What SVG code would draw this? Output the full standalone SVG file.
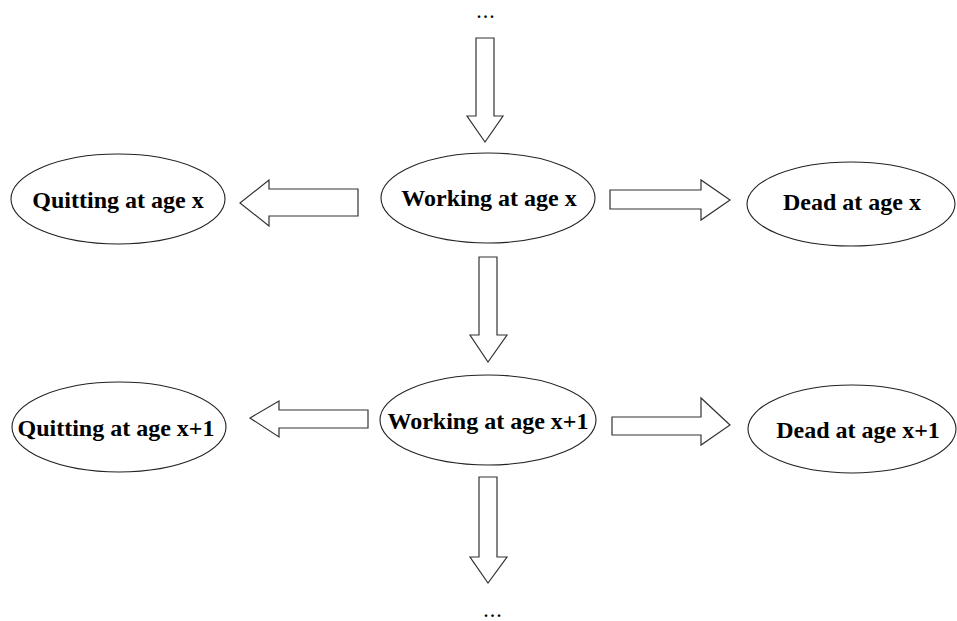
<svg xmlns="http://www.w3.org/2000/svg" width="957" height="621" viewBox="0 0 957 621">
<style>
.n{fill:#fff;stroke:#222;stroke-width:1.1}
.a{fill:#fff;stroke:#333;stroke-width:1.2;stroke-linejoin:miter}
.t{font-family:"Liberation Serif","Times New Roman",serif;font-weight:bold;font-size:24px;fill:#000;text-anchor:middle}
.d{font-family:"Liberation Serif","Times New Roman",serif;font-weight:bold;font-size:16px;letter-spacing:2.5px;fill:#000}
</style>
<rect width="957" height="621" fill="#fff"/>
<g id="connectors">
<path class="a" d="M476,38 H494 V116 H503 L485,142 L467,116 H476 Z"/>
<path class="a" d="M358,189 V216 H269 V226 L240,203 L269,180 V189 Z"/>
<path class="a" d="M610,190 H701 V180 L730,200 L701,220 V209 H610 Z"/>
<path class="a" d="M479,257 H497 V335 H507 L488,362 L470,335 H479 Z"/>
<path class="a" d="M368,410 V428 H279 V437 L250,418 L279,401 V410 Z"/>
<path class="a" d="M612,417 H701 V398 L730,425 L701,445 V435 H612 Z"/>
<path class="a" d="M479,477 H497 V557 H507 L488,583 L470,557 H479 Z"/>
</g>
<g id="top-dots"><text class="d" x="477" y="18">...</text></g>
<g id="quit-x"><ellipse class="n" cx="118" cy="199" rx="107" ry="45"/><text class="t" x="118" y="208">Quitting at age x</text></g>
<g id="work-x"><ellipse class="n" cx="488" cy="198" rx="107" ry="45"/><text class="t" x="489" y="206">Working at age x</text></g>
<g id="dead-x"><ellipse class="n" cx="851" cy="204" rx="104" ry="42"/><text class="t" x="852" y="210">Dead at age x</text></g>
<g id="quit-x1"><ellipse class="n" cx="119" cy="427" rx="107" ry="45"/><text class="t" x="116" y="436">Quitting at age x+1</text></g>
<g id="work-x1"><ellipse class="n" cx="488" cy="420" rx="108" ry="45"/><text class="t" x="488" y="429">Working at age x+1</text></g>
<g id="dead-x1"><ellipse class="n" cx="852" cy="429" rx="104" ry="44"/><text class="t" x="858" y="438">Dead at age x+1</text></g>
<g id="bottom-dots"><text class="d" x="484" y="617">...</text></g>
</svg>
